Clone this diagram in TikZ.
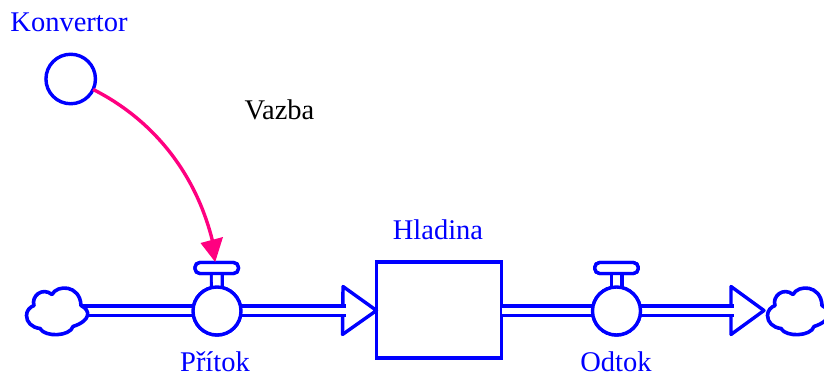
\documentclass[tikz,border=0pt]{standalone}
\usepackage{fontspec}
\setmainfont{Liberation Serif}
\definecolor{sdblue}{RGB}{0,0,255}
\definecolor{sdpink}{RGB}{255,0,128}
\tikzset{
  lw/.style={line width=3.4pt},
  ball/.style={circle,draw=sdblue,lw,fill=white,inner sep=0pt,outer sep=0pt,minimum size=48pt},
  handlebox/.style={rectangle,rounded corners=5pt,draw=sdblue,lw,fill=white,inner sep=0pt,outer sep=0pt,minimum width=43.5pt,minimum height=11pt},
  stockbox/.style={rectangle,draw=sdblue,lw,fill=white,inner sep=0pt,outer sep=0pt,minimum width=125pt,minimum height=96pt},
  pipe/.style={draw=sdblue,lw,double=white,double distance=6pt},
  stem/.style={draw=sdblue,line width=3.2pt,double=white,double distance=7.6pt},
  head/.style={draw=sdblue,lw,fill=white,line join=round},
  lbl/.style={text=sdblue,font=\fontsize{28.5}{30}\selectfont,inner sep=0pt,anchor=base},
  blacklbl/.style={text=black,font=\fontsize{28.5}{30}\selectfont,inner sep=0pt,anchor=base},
  link/.style={draw=sdpink,line width=3.4pt},
  cloudpic/.pic={\draw[draw=sdblue,line width=3.6pt,fill=white,line join=round]
    (-29.5,5) .. controls (-29.5,0) and (-26,-3.5) .. (-22,-5)
    .. controls (-25,-14) and (-14,-24) .. (-4,-16)
    .. controls (1,-26) and (24,-26) .. (25,-5)
    .. controls (35,0) and (35,10) .. (17,16)
    .. controls (14,26) and (-11,27) .. (-16,18)
    .. controls (-24,17) and (-29.5,12) .. (-29.5,5) -- cycle;}
}
\begin{document}
\begin{tikzpicture}[x=1pt,y=-1pt]
\clip (0,0) rectangle (824,374);
% nodes
\node[ball,minimum size=49.5pt] (conv) at (70.7,79) {};
\node[ball] (valveA) at (217,311) {};
\node[ball] (valveB) at (616.5,311) {};
\node[handlebox] (handleA) at (216.7,268) {};
\node[handlebox] (handleB) at (616.5,268) {};
\node[stockbox] (stock) at (439,310) {};
\coordinate (cloudA) at (56,310.5);
\coordinate (baseA) at (343,310.5);
\coordinate (baseB) at (731,310.5);
\coordinate (tipB) at (764,310.5);
% labels
\node[lbl] (lKonv) at (69,31.5) {Konvertor};
\node[blacklbl] (lVazba) at (279.5,119.5) {Vazba};
\node[lbl] (lHlad) at (438,239) {Hladina};
\node[lbl] (lPrit) at (215,371.5) {Přítok};
\node[lbl] (lOdt) at (616,371.5) {Odtok};
% arrow heads
\draw[head] (baseA) ++(0,-24) -- (stock.west |- baseA) -- ++(-34,24) -- cycle;
\draw[head] (baseB) ++(0,-24) -- (tipB) -- (731,334.5) -- cycle;
% pipes
\draw[pipe] (cloudA) -- (valveA.west |- cloudA);
\draw[pipe] (valveA.east |- cloudA) -- ([xshift=3pt]baseA);
\draw[pipe] (stock.east |- cloudA) -- (valveB.west |- cloudA);
\draw[pipe] (valveB.east |- cloudA) -- ([xshift=3pt]baseB);
% stems
\draw[stem] (handleA) -- (valveA);
\draw[stem] (handleB) -- (valveB);
% redraw shapes above stems
\node[ball] at (valveA) {};
\node[ball] at (valveB) {};
\node[handlebox] at (handleA) {};
\node[handlebox] at (handleB) {};
% clouds
\pic at (cloudA) {cloudpic};
\pic at (797,310.5) {cloudpic};
% influence
\coordinate (linkEnd) at (212.5,241);
\draw[link] (conv.-25) .. controls (150,118) and (195,170) .. (linkEnd);
\fill[sdpink] (handleA.north) ++(-1.5,-0.5) -- (200.5,243) -- (223,237) -- cycle;
\end{tikzpicture}
\end{document}
